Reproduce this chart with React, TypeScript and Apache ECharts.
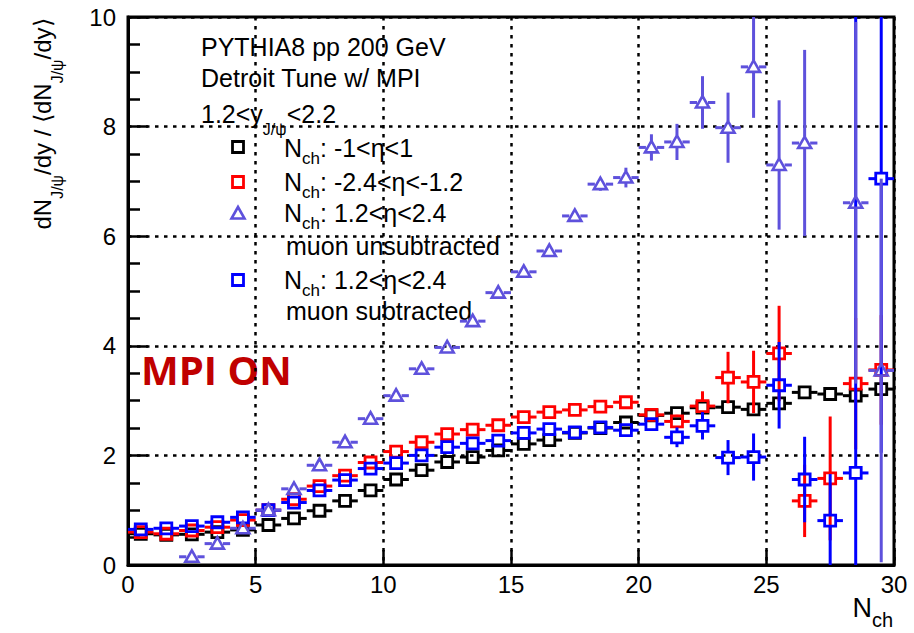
import React, { useEffect, useRef } from 'react';
import * as echarts from 'echarts';

// ---- data ----
const bins = [0.5, 1.5, 2.5, 3.5, 4.5, 5.5, 6.5, 7.5, 8.5, 9.5, 10.5, 11.5, 12.5, 13.5, 14.5, 15.5, 16.5, 17.5, 18.5, 19.5, 20.5, 21.5, 22.5, 23.5, 24.5, 25.5, 26.5, 27.5, 28.5, 29.5];

// Nch: -1<eta<1 (black)
const blackVals = [0.57, 0.55, 0.56, 0.6, 0.64, 0.73, 0.85, 0.99, 1.17, 1.36, 1.56, 1.73, 1.88, 1.97, 2.09, 2.21, 2.28, 2.41, 2.5, 2.6, 2.73, 2.77, 2.87, 2.88, 2.84, 2.95, 3.15, 3.12, 3.09, 3.21];
const blackErr = [0.01, 0.01, 0.01, 0.01, 0.01, 0.01, 0.01, 0.01, 0.02, 0.02, 0.02, 0.02, 0.02, 0.03, 0.03, 0.03, 0.03, 0.04, 0.04, 0.04, 0.05, 0.05, 0.05, 0.06, 0.06, 0.07, 0.07, 0.08, 0.08, 0.09];

// Nch: -2.4<eta<-1.2 (red)
const redVals = [0.6, 0.57, 0.63, 0.69, 0.82, 1.0, 1.2, 1.44, 1.63, 1.87, 2.07, 2.24, 2.39, 2.47, 2.55, 2.7, 2.79, 2.83, 2.89, 2.97, 2.74, 2.62, 2.9, 3.42, 3.34, 3.86, 1.17, 1.58, 3.31, 3.56];
const redErr = [0.01, 0.01, 0.01, 0.01, 0.01, 0.02, 0.02, 0.02, 0.02, 0.03, 0.03, 0.03, 0.04, 0.04, 0.05, 0.05, 0.06, 0.06, 0.07, 0.08, 0.1, 0.12, 0.27, 0.47, 0.57, 0.87, 0.66, 1.13, 1.2, 1.0];

// Nch: 1.2<eta<2.4 muon subtracted (blue squares)
const blueVals = [0.65, 0.67, 0.71, 0.78, 0.87, 1.0, 1.14, 1.36, 1.55, 1.76, 1.86, 2.0, 2.15, 2.22, 2.27, 2.41, 2.48, 2.42, 2.51, 2.46, 2.57, 2.33, 2.54, 1.96, 1.97, 3.28, 1.56, 0.81, 1.68, 7.05];
const blueErr = [0.01, 0.01, 0.01, 0.01, 0.01, 0.02, 0.02, 0.02, 0.02, 0.03, 0.03, 0.03, 0.04, 0.04, 0.05, 0.05, 0.06, 0.06, 0.07, 0.08, 0.1, 0.18, 0.25, 0.32, 0.43, 0.79, 0.78, 0.85, 9.0, 5.0];

// Nch: 1.2<eta<2.4 muon unsubtracted (triangles)
const triBins = [2.5, 3.5, 4.5, 5.5, 6.5, 7.5, 8.5, 9.5, 10.5, 11.5, 12.5, 13.5, 14.5, 15.5, 16.5, 17.5, 18.5, 19.5, 20.5, 21.5, 22.5, 23.5, 24.5, 25.5, 26.5, 28.5, 29.5];
const triVals = [0.15, 0.39, 0.67, 1.0, 1.39, 1.82, 2.24, 2.67, 3.09, 3.58, 3.97, 4.45, 4.97, 5.35, 5.73, 6.37, 6.95, 7.07, 7.62, 7.72, 8.44, 7.98, 9.09, 7.3, 7.7, 6.61, 3.55];
const triErr = [0.01, 0.01, 0.02, 0.02, 0.02, 0.03, 0.03, 0.04, 0.04, 0.05, 0.05, 0.06, 0.06, 0.07, 0.07, 0.08, 0.12, 0.18, 0.24, 0.33, 0.48, 0.64, 0.93, 1.18, 1.7, 3.3, 3.5];

const xMin = 0;
const xMax = 30;
const yMin = 0;
const yMax = 10;

const BLACK = '#000000';
const RED = '#ff0000';
const BLUE = '#0000ff';
const PURPLE = '#5e51dc';
const FONT = 'Liberation Sans, Arial, sans-serif';

function makeRender(color: string, shape: 'rect' | 'tri') {
  return (params: any, api: any) => {
    const x = api.value(0);
    const y = api.value(1);
    const e = api.value(2);
    const c = api.coord([x, y]);
    const l = api.coord([x - 0.5, y]);
    const r = api.coord([x + 0.5, y]);
    const top = api.coord([x, Math.min(y + e, yMax)]);
    const bot = api.coord([x, Math.max(y - e, yMin)]);
    const h = 5.5;
    const upGap = shape === 'rect' ? h : 6.5;
    const dnGap = shape === 'rect' ? h : 5;
    const ls = { stroke: color, lineWidth: 3 };
    const children: any[] = [];
    children.push({ type: 'line', shape: { x1: l[0], y1: c[1], x2: c[0] - h, y2: c[1] }, style: ls });
    children.push({ type: 'line', shape: { x1: c[0] + h, y1: c[1], x2: r[0], y2: c[1] }, style: ls });
    if (c[1] - top[1] > upGap) {
      children.push({ type: 'line', shape: { x1: c[0], y1: top[1], x2: c[0], y2: c[1] - upGap }, style: ls });
    }
    if (bot[1] - c[1] > dnGap) {
      children.push({ type: 'line', shape: { x1: c[0], y1: c[1] + dnGap, x2: c[0], y2: bot[1] }, style: ls });
    }
    if (shape === 'rect') {
      children.push({
        type: 'rect',
        shape: { x: c[0] - h, y: c[1] - h, width: 2 * h, height: 2 * h },
        style: { fill: 'none', stroke: color, lineWidth: 2.8 },
      });
    } else {
      children.push({
        type: 'polygon',
        shape: { points: [[c[0], c[1] - 6.5], [c[0] - 6.5, c[1] + 5], [c[0] + 6.5, c[1] + 5]] },
        style: { fill: 'none', stroke: color, lineWidth: 2.6 },
      });
    }
    return { type: 'group', children };
  };
}

function series(name: string, xs: number[], vals: number[], errs: number[], color: string, shape: 'rect' | 'tri') {
  return {
    name,
    type: 'custom',
    renderItem: makeRender(color, shape),
    data: xs.map((b, i) => [b, vals[i], errs[i]]),
    encode: { x: 0, y: 1 },
    clip: false,
    silent: true,
  };
}

function legendSquare(x: number, y: number, color: string) {
  return { type: 'rect', shape: { x: x - 5.5, y: y - 5.5, width: 11, height: 11 }, style: { fill: 'none', stroke: color, lineWidth: 2.8 } };
}

function txt(x: number, y: number, text: string, extra: any = {}) {
  return {
    type: 'text',
    x,
    y,
    style: {
      text,
      align: 'left',
      verticalAlign: 'middle',
      fill: '#000',
      fontSize: 25,
      fontFamily: FONT,
      rich: {
        n: { fontSize: 25, fontFamily: FONT, fill: '#000' },
        s: { fontSize: 17, fontFamily: FONT, fill: '#000', padding: [20, 0, 0, 0] },
        s2: { fontSize: 16, fontFamily: FONT, fill: '#000', padding: [30, 0, 0, 0] },
      },
      ...extra,
    },
  };
}

export default function App() {
  const ref = useRef<HTMLDivElement>(null);
  useEffect(() => {
    if (!ref.current) return;
    const chart = echarts.init(ref.current, undefined, { renderer: 'svg' });
    const option: any = {
      animation: false,
      backgroundColor: '#ffffff',
      grid: { left: 128, right: 20, top: 17, bottom: 68, show: true, borderColor: '#000', borderWidth: 3, backgroundColor: '#fff' },
      xAxis: {
        type: 'value',
        min: xMin,
        max: xMax,
        interval: 5,
        axisLine: { show: true, lineStyle: { color: '#000', width: 3 } },
        axisTick: { show: true, inside: true, length: 15, lineStyle: { color: '#000', width: 2.5 } },
        axisLabel: { color: '#000', fontSize: 24, fontFamily: FONT, margin: 7 },
        splitLine: { show: true, lineStyle: { color: '#000', width: 2.5, type: [3.5, 5.5] } },
      },
      yAxis: {
        type: 'value',
        min: yMin,
        max: yMax,
        interval: 2,
        axisLine: { show: true, lineStyle: { color: '#000', width: 3 } },
        axisTick: { show: true, inside: true, length: 20, lineStyle: { color: '#000', width: 2.5 } },
        minorTick: { show: true, splitNumber: 4, length: 12, lineStyle: { color: '#000', width: 2.5 } },
        axisLabel: { color: '#000', fontSize: 24, fontFamily: FONT, margin: 12 },
        splitLine: { show: true, lineStyle: { color: '#000', width: 2.5, type: [3.5, 5.5] } },
      },
      series: [
        series('black', bins, blackVals, blackErr, BLACK, 'rect'),
        series('red', bins, redVals, redErr, RED, 'rect'),
        series('blue', bins, blueVals, blueErr, BLUE, 'rect'),
        series('tri', triBins, triVals, triErr, PURPLE, 'tri'),
      ],
      graphic: [
        txt(201, 47, 'PYTHIA8 pp 200 GeV'),
        txt(201, 78, 'Detroit Tune w/ MPI'),
        txt(201, 114, '{n|1.2<y}{s2|J/ψ}{n|<2.2}'),
        legendSquare(238, 147, BLACK),
        txt(284, 148, '{n|N}{s|ch}{n|: -1<η<1}'),
        legendSquare(238, 182, RED),
        txt(284, 182, '{n|N}{s|ch}{n|: -2.4<η<-1.2}'),
        { type: 'polygon', shape: { points: [[238, 207], [231.5, 218.5], [244.5, 218.5]] }, style: { fill: 'none', stroke: PURPLE, lineWidth: 2.6 } },
        txt(284, 213, '{n|N}{s|ch}{n|: 1.2<η<2.4}'),
        txt(286, 246, 'muon unsubtracted'),
        legendSquare(238, 280, BLUE),
        txt(284, 280, '{n|N}{s|ch}{n|: 1.2<η<2.4}'),
        txt(286, 311, 'muon subtracted'),
        {
          type: 'text',
          x: 141,
          y: 369,
          style: { text: 'MPI ON', align: 'left', verticalAlign: 'middle', fill: '#c00000', fontSize: 40, fontWeight: 'bold', fontFamily: 'Open Sans, Liberation Sans, sans-serif' },
        },
        {
          type: 'text',
          x: 893,
          y: 608,
          style: {
            text: '{n|N}{s|ch}',
            align: 'right',
            verticalAlign: 'middle',
            rich: {
              n: { fontSize: 27, fontFamily: FONT, fill: '#000' },
              s: { fontSize: 20, fontFamily: FONT, fill: '#000', padding: [24, 0, 0, 0] },
            },
          },
        },
        {
          type: 'text',
          x: 42,
          y: 124,
          rotation: Math.PI / 2,
          style: {
            text: '{m|dN}{s|J/ψ}{m|/dy / ⟨dN}{s|J/ψ}{m|/dy⟩}',
            align: 'center',
            verticalAlign: 'middle',
            rich: {
              m: { fontSize: 24, fontFamily: FONT, fill: '#000' },
              s: { fontSize: 16, fontFamily: FONT, fill: '#000', padding: [30, 0, 0, 0] },
            },
          },
        },
      ],
    };
    chart.setOption(option);
    return () => chart.dispose();
  }, []);
  return <div ref={ref} style={{ position: 'fixed', left: 0, top: 0, width: 914, height: 633, background: '#fff' }} />;
}
